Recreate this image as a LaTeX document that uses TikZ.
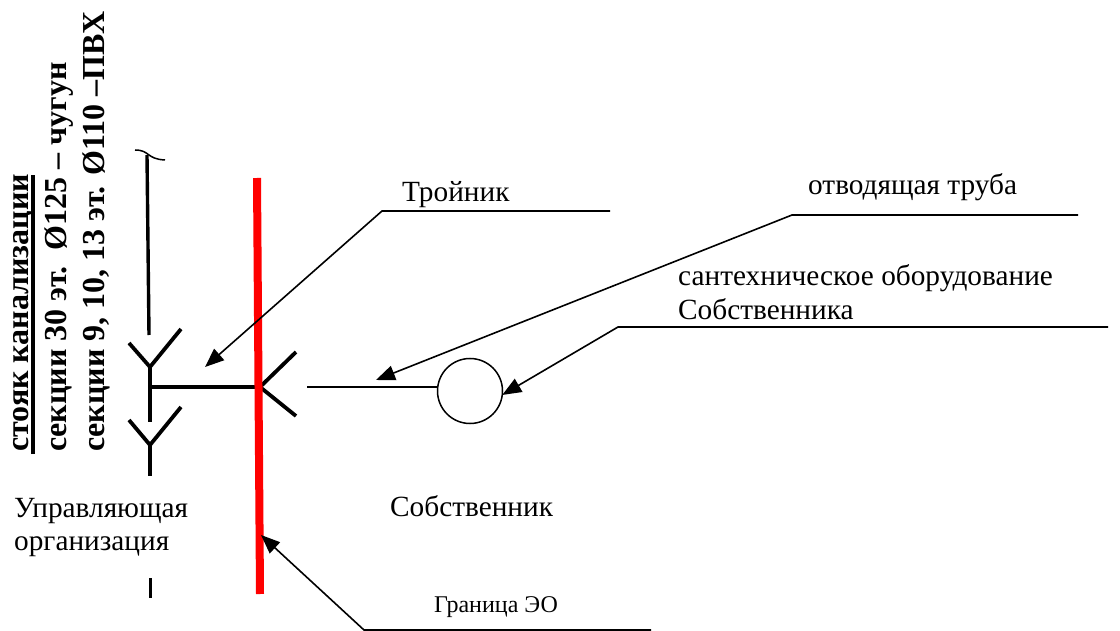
\documentclass[tikz,border=0pt]{standalone}
\usepackage{fontspec}
\setmainfont{Liberation Serif}
\usetikzlibrary{arrows.meta}
\tikzset{
  x=1pt,y=-1pt,
  lab/.style={inner sep=0pt,anchor=base west,font=\fontsize{29.3}{34}\selectfont},
  vlab/.style={inner sep=0pt,anchor=base west,rotate=90,font=\fontsize{32}{36}\selectfont\bfseries},
  pipe/.style={line width=3.8pt,black},
  leader/.style={line width=1.6pt,black},
  tip/.style={leader,-{Triangle[length=19pt,width=15pt]}},
}
\begin{document}
\begin{tikzpicture}
\useasboundingbox (0,0) rectangle (1120,631);
% named points
\coordinate (riserTop) at (147,155);
\coordinate (riserEnd) at (149,335);
\coordinate (y1L) at (129,343);
\coordinate (y1R) at (181,329);
\coordinate (y1C) at (150,367);
\coordinate (y1S) at (150,422);
\coordinate (y2L) at (129,420);
\coordinate (y2R) at (181,407);
\coordinate (y2C) at (150,445);
\coordinate (y2S) at (150,476);
\coordinate (dashA) at (150.5,578);
\coordinate (dashB) at (150.5,598);
\coordinate (tee) at (150,387);
\coordinate (rC) at (260,387);
\coordinate (rU) at (296,352);
\coordinate (rD) at (296,416);
\coordinate (pipeA) at (307,387);
\coordinate (redA) at (257,178);
\coordinate (redB) at (260,594);
\coordinate (ulA) at (33,454);
\coordinate (ulB) at (33,175);
% vertical labels
\node[vlab] (t1) at (28.5,452) {стояк канализации};
\draw[line width=4pt] (ulA) -- (ulB);
\node[vlab] (t2) at (66.5,452) {секции 30 эт.\ \ Ø125 – чугун};
\node[vlab] (t3) at (104,452) {секции 9, 10, 13 эт. Ø110 –ПВХ};
% riser
\draw[line width=3.4pt] (riserTop) -- (riserEnd);
\draw[line width=1.5pt] (135,150) .. controls (150,150) and (146,159) .. (165,160);
\draw[pipe] (y1L) -- (y1C) -- (y1R);
\draw[pipe] (y1C) -- (y1S);
\draw[pipe] (y2L) -- (y2C) -- (y2R);
\draw[pipe] (y2C) -- (y2S);
\draw[pipe] (dashA) -- (dashB);
\draw[line width=3.2pt] (tee) -- (rC);
\draw[pipe] (rU) -- (rC) -- (rD);
% owner pipe and fixture
\node[draw,circle,line width=1.5pt,minimum size=65pt,inner sep=0pt,outer sep=0pt] (fix) at (470,391) {};
\draw[leader] (pipeA) -- (fix.west |- pipeA);
% boundary
\draw[line width=8pt,red] (redA) -- (redB);
% leaders
\coordinate (a1) at (610,211); \coordinate (a2) at (382,211); \coordinate (a3) at (205,367);
\draw[tip] (a1) -- (a2) -- (a3);
\coordinate (b1) at (1078,215); \coordinate (b2) at (792,215); \coordinate (b3) at (376,380);
\draw[tip] (b1) -- (b2) -- (b3);
\coordinate (c1) at (1108,327); \coordinate (c2) at (618,327);
\draw[tip] (c1) -- (c2) -- (fix.-7);
\coordinate (d1) at (651,630); \coordinate (d2) at (364,630); \coordinate (d3) at (261,535);
\draw[tip] (d1) -- (d2) -- (d3);
% labels
\node[lab] (tr) at (402,201.5) {Тройник};
\node[lab] (ot) at (808,195) {отводящая труба};
\node[lab] (s1) at (678,286) {сантехническое оборудование};
\node[lab] (s2) at (678,319.5) {Собственника};
\node[lab] (u1) at (14,517) {Управляющая};
\node[lab] (u2) at (14,550) {организация};
\node[lab] (so) at (390,516.5) {Собственник};
\node[lab,font=\fontsize{24}{28}\selectfont] (gr) at (434,612.5) {Граница ЭО};
\end{tikzpicture}
\end{document}
